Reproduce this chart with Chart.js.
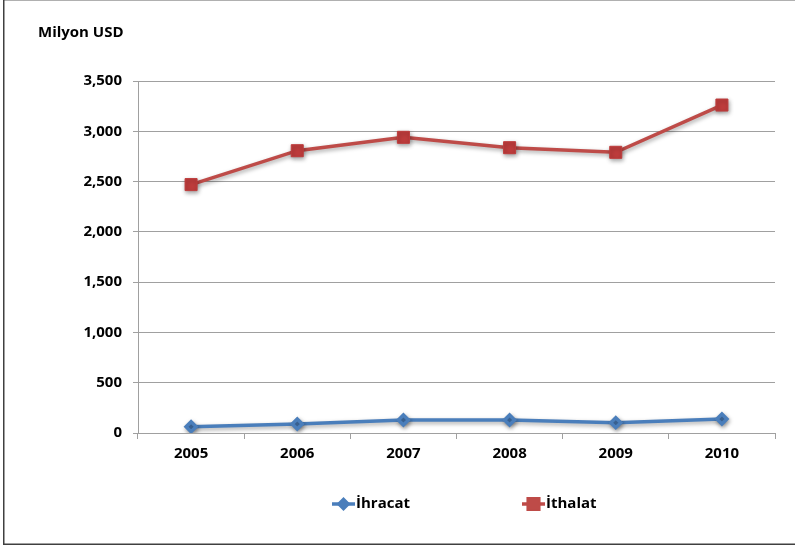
<!DOCTYPE html>
<html>
<head>
<meta charset="utf-8">
<script src="https://cdn.jsdelivr.net/npm/chart.js@4.4.1/dist/chart.umd.min.js"></script>
<style>
  html, body { margin: 0; padding: 0; background: #fff; }
  #wrap { position: relative; width: 795px; height: 548px; }
  canvas { display: block; }
</style>
</head>
<body>
<div id="wrap"><canvas id="c" width="795" height="548"></canvas></div>
<script>
const categories = ['2005', '2006', '2007', '2008', '2009', '2010'];
const ihracat = [63, 90, 130, 130, 103, 140];
const ithalat = [2470, 2807, 2940, 2837, 2791, 3261];
const seriesNames = ['İhracat', 'İthalat'];
const yTicks = [0, 500, 1000, 1500, 2000, 2500, 3000, 3500];
const yTitle = 'Milyon USD';

const FONT = '"Open Sans", Lato, sans-serif';
const BLUE = '#4a7ebb';
const RED = '#be4b48';

const decorPlugin = {
  id: 'decor',
  beforeDraw(chart) {
    const ctx = chart.ctx;
    ctx.save();
    ctx.fillStyle = '#fff';
    ctx.fillRect(0, 0, chart.width, chart.height);
    ctx.strokeStyle = '#b0b0b0';
    ctx.lineWidth = 1;
    ctx.beginPath(); ctx.moveTo(3, 0.5); ctx.lineTo(795, 0.5); ctx.stroke();
    ctx.strokeStyle = '#404040';
    ctx.lineWidth = 1.5;
    ctx.beginPath(); ctx.moveTo(3.75, 0); ctx.lineTo(3.75, 544.25); ctx.lineTo(795, 544.25); ctx.stroke();
    ctx.restore();
  },
  afterDraw(chart) {
    const ctx = chart.ctx;
    ctx.save();
    ctx.fillStyle = '#000';
    ctx.font = 'bold 15px ' + FONT;
    ctx.textBaseline = 'middle';
    ctx.textAlign = 'left';
    ctx.fillText(yTitle, 38, 33);
    const items = [
      { x: 332, name: seriesNames[0], color: BLUE, style: 'rectRot', r: 4.5 },
      { x: 522, name: seriesNames[1], color: RED, style: 'rect', r: 7.5 }
    ];
    const ly = 504;
    items.forEach(it => {
      ctx.strokeStyle = it.color;
      ctx.lineWidth = 3.5;
      ctx.beginPath(); ctx.moveTo(it.x, ly); ctx.lineTo(it.x + 23, ly); ctx.stroke();
      ctx.fillStyle = it.color;
      Chart.helpers.drawPoint(ctx, { pointStyle: it.style, radius: it.r, borderWidth: 1, rotation: 0 }, it.x + 11.5, ly);
      ctx.fill();
      ctx.fillStyle = '#000';
      ctx.fillText(it.name, it.x + 24, ly);
    });
    ctx.restore();
  }
};

const pointShadow = {
  id: 'pshadow',
  beforeDatasetsDraw(chart) {
    chart.ctx.save();
    chart.ctx.shadowColor = 'rgba(0,0,0,0.35)';
    chart.ctx.shadowBlur = 4;
    chart.ctx.shadowOffsetX = 1;
    chart.ctx.shadowOffsetY = 2;
  },
  afterDatasetsDraw(chart) { chart.ctx.restore(); }
};

new Chart(document.getElementById('c'), {
  type: 'line',
  data: {
    labels: categories,
    datasets: [
      {
        label: seriesNames[0], data: ihracat,
        borderColor: BLUE, backgroundColor: BLUE, borderWidth: 3.5,
        pointStyle: 'rectRot', pointRadius: 5, pointBackgroundColor: BLUE, pointBorderColor: BLUE,
        tension: 0
      },
      {
        label: seriesNames[1], data: ithalat,
        borderColor: RED, backgroundColor: RED, borderWidth: 3.5,
        pointStyle: 'rect', pointRadius: 8.5, pointBackgroundColor: '#be3c3c', pointBorderColor: '#be3c3c', pointBorderWidth: 1,
        tension: 0
      }
    ]
  },
  options: {
    responsive: false,
    animation: false,
    devicePixelRatio: 1,
    layout: { padding: { left: 0, right: 20, top: 81, bottom: 0 } },
    plugins: { legend: { display: false }, tooltip: { enabled: false }, title: { display: false } },
    scales: {
      x: {
        offset: true,
        grid: { offset: true, drawOnChartArea: false, drawTicks: true, tickLength: 6, color: '#a0a0a0', lineWidth: 1 },
        border: { display: true, color: '#a0a0a0', width: 1 },
        ticks: { color: '#000', font: { family: FONT, size: 15, weight: 'bold' }, padding: 6, maxRotation: 0 },
        afterFit(s) { s.height = 115; }
      },
      y: {
        min: 0, max: 3500,
        afterBuildTicks(s) { s.ticks = yTicks.map(v => ({ value: v })); },
        grid: { color: '#a0a0a0', lineWidth: 1, tickLength: 5 },
        border: { display: true, color: '#a0a0a0', width: 1 },
        ticks: {
          color: '#000', font: { family: FONT, size: 15, weight: 'bold' }, padding: 11,
          callback: v => v.toLocaleString('en-US')
        },
        afterFit(s) { s.width = 138; }
      }
    }
  },
  plugins: [decorPlugin, pointShadow]
});
</script>
</body>
</html>
